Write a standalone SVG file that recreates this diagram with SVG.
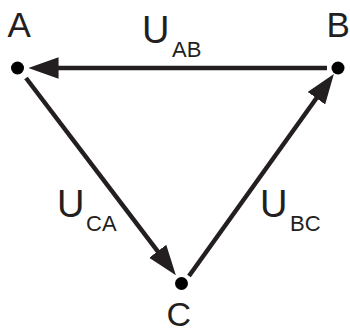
<svg xmlns="http://www.w3.org/2000/svg" width="350" height="333" viewBox="0 0 350 333">
<style>
.lbl{font-family:"Liberation Sans",Arial,sans-serif;fill:#231f20;}
.node{font-size:35px;}
.u{font-size:38px;}
.sub{font-size:22px;}
.dot{fill:#000;}
.edge{stroke:#231f20;stroke-width:4.5;fill:none;}
</style>
<defs>
<marker id="arr" markerUnits="userSpaceOnUse" markerWidth="30" markerHeight="22" viewBox="0 0 28 20" refX="8" refY="10" orient="auto">
<path d="M0,0 L28,10 L0,20 z" fill="#231f20"/>
</marker>
</defs>
<rect width="350" height="333" fill="#fff"/>
<g id="connectors">
<g id="edge-BA">
<line class="edge" x1="327" y1="68" x2="50" y2="68" marker-end="url(#arr)"/>
<text class="lbl"><tspan class="u" x="142" y="43">U</tspan><tspan class="sub" x="172" y="57">AB</tspan></text>
</g>
<g id="edge-AC">
<line class="edge" x1="26" y1="78" x2="162.9" y2="258.1" marker-end="url(#arr)"/>
<text class="lbl"><tspan class="u" x="57" y="217">U</tspan><tspan class="sub" x="86" y="231">CA</tspan></text>
</g>
<g id="edge-CB">
<line class="edge" x1="189" y1="276" x2="321.4" y2="91.3" marker-end="url(#arr)"/>
<text class="lbl"><tspan class="u" x="260" y="217">U</tspan><tspan class="sub" x="290" y="231">BC</tspan></text>
</g>
</g>
<g id="node-A">
<circle class="dot" cx="17.5" cy="68" r="6.5"/>
<text class="lbl node" x="7.5" y="37">A</text>
</g>
<g id="node-B">
<circle class="dot" cx="338" cy="68" r="6.5"/>
<text class="lbl node" x="326.5" y="37">B</text>
</g>
<g id="node-C">
<circle class="dot" cx="181.5" cy="283.5" r="6.5"/>
<text class="lbl node" x="166.5" y="325.5" style="font-size:34px">C</text>
</g>
</svg>
